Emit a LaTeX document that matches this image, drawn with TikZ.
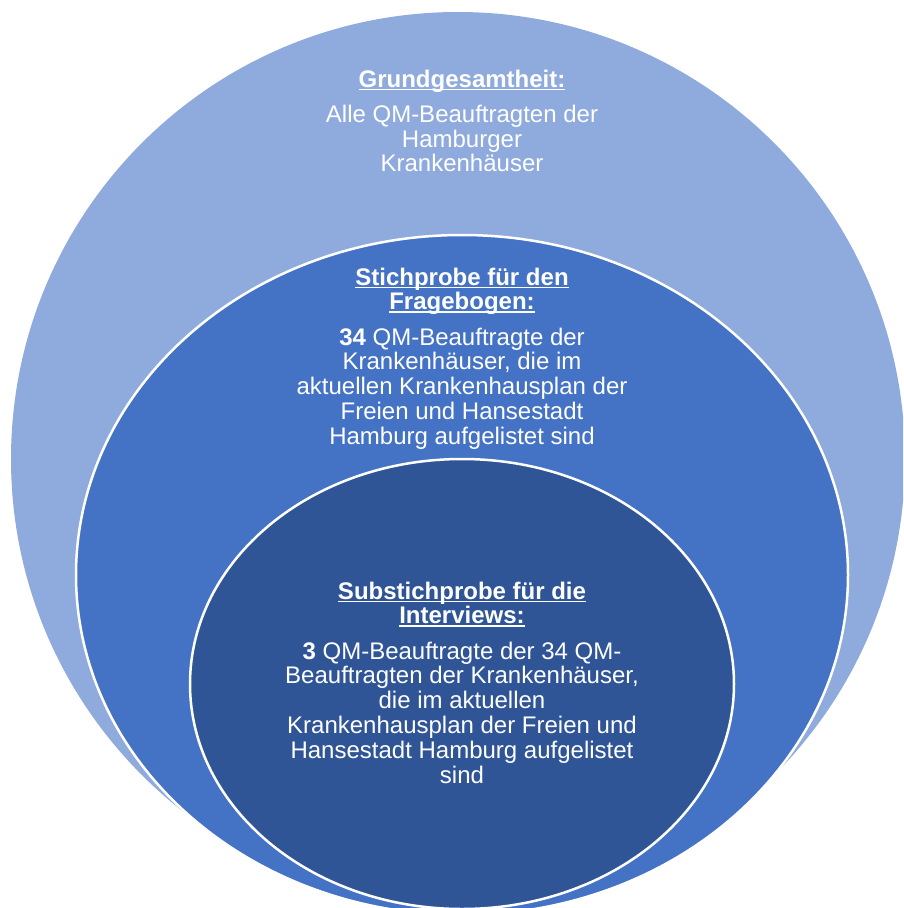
\documentclass[tikz,border=0pt]{standalone}
\usepackage{fontspec}
\setmainfont{Liberation Sans}
\definecolor{outerC}{HTML}{8FAADC}
\definecolor{midC}{HTML}{4472C4}
\definecolor{innerC}{HTML}{2F5597}
\newcommand\uln[1]{\setbox0\hbox{#1}\rlap{\rule[-3.4pt]{\wd0}{1.75pt}}\box0}
\begin{document}
\begin{tikzpicture}[x=1pt,y=-1pt,
  txt/.style={text=white, inner sep=0pt, anchor=base, font=\fontsize{24}{24.7}\selectfont},
  ring/.style={draw=white, line width=2.5pt}]
\useasboundingbox (0,0) rectangle (903,908);
\clip (0,0) rectangle (903,908);
\fill[outerC] (458,459) circle[radius=447];
\filldraw[ring, fill=midC] (462,575) ellipse[x radius=386, y radius=340];
\filldraw[ring, fill=innerC] (462,684) ellipse[x radius=272, y radius=225];
\node[txt] (outertxt) at (462,87) {\begin{tabular}[t]{@{}c@{}}\textbf{\uln{Grundgesamtheit:}}\\[10.4pt]
Alle QM-Beauftragten der\\ Hamburger\\ Krankenhäuser\end{tabular}};
\node[txt] (midtxt) at (462,285) {\begin{tabular}[t]{@{}c@{}}\textbf{\uln{Stichprobe für den}}\\ \textbf{\uln{Fragebogen:}}\\[10.4pt]
\textbf{34} QM-Beauftragte der\\ Krankenhäuser, die im\\ aktuellen Krankenhausplan der\\ Freien und Hansestadt\\ Hamburg aufgelistet sind\end{tabular}};
\node[txt] (innertxt) at (462,599) {\begin{tabular}[t]{@{}c@{}}\textbf{\uln{Substichprobe für die}}\\ \textbf{\uln{Interviews:}}\\[10.4pt]
\textbf{3} QM-Beauftragte der 34 QM-\\ Beauftragten der Krankenhäuser,\\ die im aktuellen\\ Krankenhausplan der Freien und\\ Hansestadt Hamburg aufgelistet\\ sind\end{tabular}};
\end{tikzpicture}
\end{document}
